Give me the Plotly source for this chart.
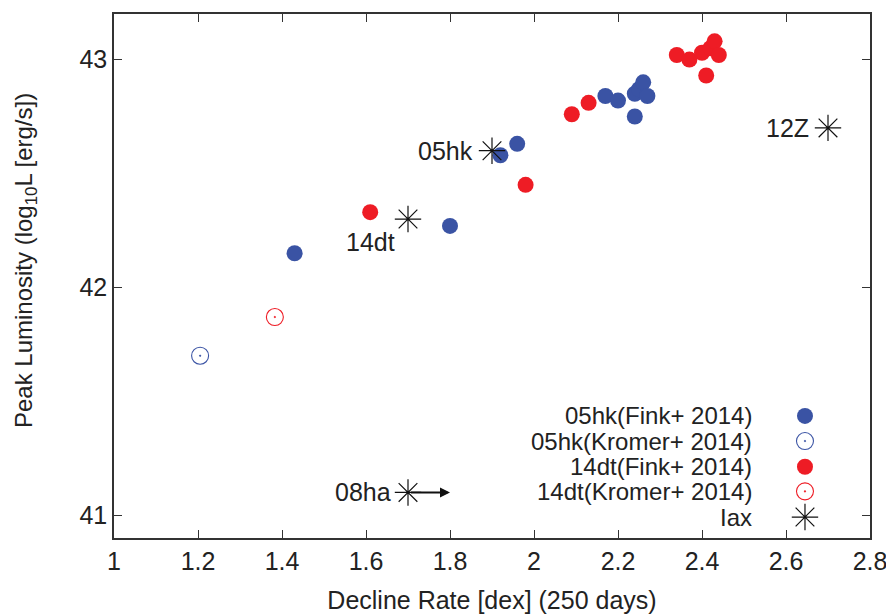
import plotly.graph_objects as go

# ---- data ----
fink05_x = [1.43, 1.80, 1.92, 1.96, 2.17, 2.20, 2.24, 2.24, 2.25, 2.26, 2.27]
fink05_y = [42.15, 42.27, 42.58, 42.63, 42.84, 42.82, 42.75, 42.85, 42.87, 42.90, 42.84]

kromer05_x = [1.205]
kromer05_y = [41.70]

fink14_x = [1.61, 1.98, 2.09, 2.13, 2.34, 2.37, 2.40, 2.41, 2.42, 2.43, 2.44]
fink14_y = [42.33, 42.45, 42.76, 42.81, 43.02, 43.00, 43.03, 42.93, 43.05, 43.08, 43.02]

kromer14_x = [1.383]
kromer14_y = [41.87]

iax_names = ["05hk", "14dt", "12Z", "08ha"]
iax_x = [1.90, 1.70, 2.70, 1.70]
iax_y = [42.60, 42.30, 42.70, 41.10]

limit_name = "08ha"
limit_to_x = 1.80

x_ticks = [1, 1.2, 1.4, 1.6, 1.8, 2, 2.2, 2.4, 2.6, 2.8]
x_ticklabels = ["1", "1.2", "1.4", "1.6", "1.8", "2", "2.2", "2.4", "2.6", "2.8"]
y_ticks = [41, 42, 43]
y_ticklabels = ["41", "42", "43"]

legend_labels = ["05hk(Fink+ 2014)", "05hk(Kromer+ 2014)", "14dt(Fink+ 2014)",
                 "14dt(Kromer+ 2014)", "Iax"]

# ---- styles ----
BLUE = "#3a53a4"
RED = "#ee1c25"
TXT = "#222222"
FONT = "Liberation Sans, Arial, sans-serif"
FS = 25

fig = go.Figure()

filled = dict(symbol="circle", size=16, line=dict(width=0))
opened = dict(symbol="circle-open-dot", size=17, line=dict(width=1.1))
star = dict(symbol="asterisk-open", size=22, color="#111111", line=dict(width=1.2, color="#111111"))

fig.add_trace(go.Scatter(x=fink05_x, y=fink05_y, mode="markers",
                         marker=dict(color=BLUE, **filled), showlegend=False))
fig.add_trace(go.Scatter(x=kromer05_x, y=kromer05_y, mode="markers",
                         marker=dict(color=BLUE, **opened), showlegend=False))
fig.add_trace(go.Scatter(x=fink14_x, y=fink14_y, mode="markers",
                         marker=dict(color=RED, **filled), showlegend=False))
fig.add_trace(go.Scatter(x=kromer14_x, y=kromer14_y, mode="markers",
                         marker=dict(color=RED, **opened), showlegend=False))
fig.add_trace(go.Scatter(x=iax_x, y=iax_y, mode="markers",
                         marker=star, showlegend=False))

# labels for Iax objects
label_offsets = {"05hk": (-17, 0, "right"), "14dt": (-38, -23, "center"),
                 "12Z": (-17, 0, "right"), "08ha": (-15, 0, "right")}
for n, x, y in zip(iax_names, iax_x, iax_y):
    dx, dy, anchor = label_offsets[n]
    fig.add_annotation(x=x, y=y, xref="x", yref="y", text=n, showarrow=False,
                       xanchor=anchor, yanchor="middle", xshift=dx, yshift=dy,
                       font=dict(family=FONT, size=FS, color=TXT))

# lower-limit arrow for 08ha
i = iax_names.index(limit_name)
fig.add_annotation(x=limit_to_x, y=iax_y[i], ax=iax_x[i], ay=iax_y[i],
                   xref="x", yref="y", axref="x", ayref="y", text=" ",
                   showarrow=True, arrowhead=2, arrowsize=1, arrowwidth=2,
                   arrowcolor="#111111", standoff=0, startstandoff=0)

# ---- custom legend (text then symbol, gnuplot style) ----
leg_rows = [0.233, 0.185, 0.136, 0.089, 0.040]
leg_mx = 0.914
leg_tx = 0.846
leg_markers = [dict(color=BLUE, **filled), dict(color=BLUE, **opened),
               dict(color=RED, **filled), dict(color=RED, **opened), star]
for lab, yy, mk in zip(legend_labels, leg_rows, leg_markers):
    fig.add_trace(go.Scatter(x=[leg_mx], y=[yy], xaxis="x2", yaxis="y2",
                             mode="markers", marker=mk, showlegend=False,
                             hoverinfo="skip"))
    fig.add_annotation(x=leg_tx, y=yy, xref="x2", yref="y2", text=lab,
                       showarrow=False, xanchor="right", yanchor="middle",
                       font=dict(family=FONT, size=24, color=TXT))

# y-axis title as a rotated annotation (to match its slightly raised position)
fig.add_annotation(x=-0.118, y=0.530, xref="paper", yref="paper",
                   text="Peak Luminosity (log<sub>10</sub>L [erg/s])",
                   textangle=-90, showarrow=False, xanchor="center", yanchor="middle",
                   font=dict(family=FONT, size=24, color=TXT))

axis_common = dict(showgrid=False, zeroline=False, showline=True, mirror="ticks",
                   linecolor="#333333", linewidth=1.5, ticks="inside", ticklen=8,
                   tickwidth=1, tickcolor="#333333",
                   tickfont=dict(family=FONT, size=FS, color=TXT))

fig.update_layout(
    width=894, height=615,
    margin=dict(l=106, r=32, t=4, b=85),
    paper_bgcolor="white", plot_bgcolor="white",
    showlegend=False,
    xaxis=dict(range=[1, 2.8], tickvals=x_ticks, ticktext=x_ticklabels,
               title=dict(text="Decline Rate [dex] (250 days)", standoff=18,
                          font=dict(family=FONT, size=FS, color=TXT)),
               **axis_common),
    yaxis=dict(range=[40.9, 43.2], tickvals=y_ticks, ticktext=y_ticklabels,
               **axis_common),
    xaxis2=dict(range=[0, 1], overlaying="x", visible=False, fixedrange=True),
    yaxis2=dict(range=[0, 1], overlaying="y", visible=False, fixedrange=True),
)

fig.write_html("out.html")
